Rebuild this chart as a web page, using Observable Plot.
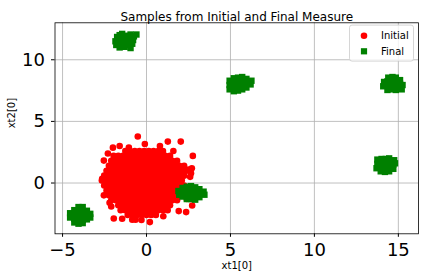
<!DOCTYPE html>
<html>
<head>
<meta charset="utf-8">
<script src="https://cdn.jsdelivr.net/npm/d3@7"></script>
<script src="https://cdn.jsdelivr.net/npm/@observablehq/plot@0.6"></script>
<style>
  html, body { margin: 0; padding: 0; background: white; }
  #chart svg { display: block; }
</style>
</head>
<body>
<div id="chart"></div>
<script>
const titleText = "Samples from Initial and Final Measure";
const xLabel = "xt1[0]";
const yLabel = "xt2[0]";
const xTicks = [-5, 0, 5, 10, 15];
const yTicks = [0, 5, 10];
const seriesNames = ["Initial", "Final"];

// Initial measure samples (red circles): dense core, row by row [y, xs]
const initialCoreRows = [
  [2.6,  [-1.26,-0.98,-0.7,-0.42,-0.14,0.14,0.42,0.7,0.98]],
  [2.2,  [-1.96,-1.68,-1.4,-1.12,-0.84,-0.56,-0.28,0,0.28,0.56,0.84,1.12,1.4]],
  [1.8,  [-2.1,-1.82,-1.54,-1.26,-0.98,-0.7,-0.42,-0.14,0.14,0.42,0.7,0.98,1.26,1.54,1.82]],
  [1.4,  [-2.24,-1.96,-1.68,-1.4,-1.12,-0.84,-0.56,-0.28,0,0.28,0.56,0.84,1.12,1.4,1.68,1.96,2.24]],
  [1.0,  [-2.38,-2.1,-1.82,-1.54,-1.26,-0.98,-0.7,-0.42,-0.14,0.14,0.42,0.7,0.98,1.26,1.54,1.82,2.1,2.38]],
  [0.6,  [-2.52,-2.24,-1.96,-1.68,-1.4,-1.12,-0.84,-0.56,-0.28,0,0.28,0.56,0.84,1.12,1.4,1.68,1.96,2.24]],
  [0.2,  [-2.66,-2.38,-2.1,-1.82,-1.54,-1.26,-0.98,-0.7,-0.42,-0.14,0.14,0.42,0.7,0.98,1.26,1.54,1.82,2.1]],
  [-0.2, [-2.52,-2.24,-1.96,-1.68,-1.4,-1.12,-0.84,-0.56,-0.28,0,0.28,0.56,0.84,1.12,1.4,1.68,1.96,2.24]],
  [-0.6, [-2.38,-2.1,-1.82,-1.54,-1.26,-0.98,-0.7,-0.42,-0.14,0.14,0.42,0.7,0.98,1.26,1.54,1.82,2.1]],
  [-1.0, [-2.24,-1.96,-1.68,-1.4,-1.12,-0.84,-0.56,-0.28,0,0.28,0.56,0.84,1.12,1.4,1.68,1.96]],
  [-1.4, [-2.1,-1.82,-1.54,-1.26,-0.98,-0.7,-0.42,-0.14,0.14,0.42,0.7,0.98,1.26,1.54,1.82]],
  [-1.8, [-1.68,-1.4,-1.12,-0.84,-0.56,-0.28,0,0.28,0.56,0.84,1.12,1.4]],
  [-2.2, [-1.54,-1.26,-0.98,-0.7,-0.42,-0.14,0.14,0.42,0.7,0.98,1.26]],
  [-2.6, [-1.12,-0.84,-0.56,-0.28,0,0.28,0.56]]
];
// Initial measure samples: scattered points at the edge of the cloud
const initialEdgePoints = [
  [-0.52,3.77],[1.27,3.36],[2.04,3.36],[2.76,2.2],[-2.0,2.87],[-1.05,2.87],[-0.1,3.17],
  [-1.95,-2.88],[-1.45,-2.9],[-0.85,-2.98],[-0.65,-2.98],[0.2,-3.17],[2.36,-2.36],[1.92,-2.28],[2.72,-1.82],
  [-2.64,0.34],[-2.54,1.82],[-2.54,-1.0],[-2.2,-1.6],[-2.1,-1.9],
  [2.5,1.1],[2.6,0.5],[2.4,-1.3],[-1.6,3.0],[0.8,3.0],[1.6,2.6],[-2.3,2.4],[1.0,-2.7],[-0.3,-3.0],[2.7,1.2],[2.65,0.8]
];

// Final measure samples (green squares), six clusters
const finalPoints = [
  [-1.85,11.5],[-1.8,11.2],[-1.75,11.85],[-1.6,11.0],[-1.55,11.4],[-1.5,11.7],[-1.45,12.1],[-1.3,11.05],[-1.3,11.35],[-1.25,11.65],
  [-1.2,11.95],[-1.1,11.2],[-1.05,11.5],[-1.0,11.8],[-0.95,12.05],[-0.85,11.3],[-0.8,11.6],[-0.75,11.9],[-0.95,10.95],[-1.6,12.0],[-0.6,12.05],
  [4.95,7.6],[4.95,7.95],[4.95,8.3],[5.2,7.45],[5.2,7.8],[5.2,8.15],[5.2,8.5],[5.45,7.5],[5.45,7.85],[5.45,8.2],
  [5.45,8.55],[5.7,7.6],[5.7,7.95],[5.7,8.3],[5.7,8.6],[5.95,7.75],[5.95,8.1],[5.95,8.45],[6.2,8.0],[6.25,8.3],
  [14.1,7.85],[14.15,8.2],[14.35,7.55],[14.35,7.9],[14.35,8.25],[14.4,8.55],[14.6,7.6],[14.6,7.95],[14.6,8.3],[14.65,8.6],
  [14.85,7.55],[14.85,7.9],[14.85,8.25],[14.85,8.55],[15.1,7.7],[15.1,8.05],[15.1,8.35],[15.25,7.95],[15.2,7.6],
  [13.7,1.2],[13.75,1.55],[13.75,1.9],[13.95,0.95],[13.95,1.3],[13.95,1.65],[14.0,1.95],[14.2,0.9],[14.2,1.25],[14.2,1.6],
  [14.25,1.95],[14.45,0.95],[14.45,1.3],[14.45,1.65],[14.45,2.0],[14.7,1.15],[14.7,1.5],[14.75,1.85],[14.8,1.6],
  [1.9,-0.65],[1.95,-0.95],[2.15,-0.4],[2.15,-0.75],[2.15,-1.1],[2.4,-0.3],[2.4,-0.65],[2.4,-1.0],[2.4,-1.3],[2.65,-0.25],[2.65,-0.6],
  [2.65,-0.95],[2.65,-1.3],[2.9,-0.35],[2.9,-0.7],[2.9,-1.05],[2.9,-1.35],[3.15,-0.5],[3.15,-0.85],[3.15,-1.15],[3.4,-0.7],[3.45,-0.95],
  [-4.55,-2.45],[-4.55,-2.8],[-4.3,-2.2],[-4.3,-2.55],[-4.3,-2.9],[-4.3,-3.2],[-4.05,-1.95],[-4.05,-2.3],[-4.05,-2.65],[-4.05,-3.0],[-4.05,-3.3],
  [-3.8,-1.95],[-3.8,-2.3],[-3.8,-2.65],[-3.8,-3.0],[-3.8,-3.25],[-3.55,-2.25],[-3.55,-2.6],[-3.55,-2.95],[-3.35,-2.5],[-3.35,-2.8]
];

const initialPoints = initialCoreRows.flatMap(([y, xs]) => xs.map(x => [x, y])).concat(initialEdgePoints);

const colors = ["#ff0000", "#008000"];
const W = 424, H = 280;
const mL = 54.5, mR = 6, mT = 22.3, mB = 46.7;
const fmt = d => d < 0 ? "\u2212" + (-d) : String(d);

const chart = Plot.plot({
  width: W, height: H,
  marginLeft: mL, marginRight: mR, marginTop: mT, marginBottom: mB,
  style: { fontFamily: "DejaVu Sans", background: "white", color: "black" },
  x: { domain: [-5.45, 16.2] },
  y: { domain: [-4.12, 13.0] },
  marks: [
    Plot.gridX(xTicks, { stroke: "#b0b0b0", strokeOpacity: 1, strokeWidth: 0.8 }),
    Plot.gridY(yTicks, { stroke: "#b0b0b0", strokeOpacity: 1, strokeWidth: 0.8 }),
    Plot.dot(initialPoints, { x: d => d[0], y: d => d[1], r: 3.3, fill: colors[0], stroke: "none" }),
    Plot.dot(finalPoints, { x: d => d[0], y: d => d[1], r: 3.6, symbol: "square", fill: colors[1], stroke: "none" }),
    Plot.frame({ stroke: "black", strokeWidth: 0.8 }),
    Plot.axisX(xTicks, { tickSize: 3.5, tickPadding: 6, fontSize: 18, tickFormat: fmt, label: null }),
    Plot.axisY(yTicks, { tickSize: 3.5, tickPadding: 6.5, fontSize: 18, tickFormat: fmt, label: null }),
    Plot.text([titleText], { frameAnchor: "top", dy: -10, fontSize: 12, fill: "black" }),
    Plot.text([xLabel], { frameAnchor: "bottom", dy: 35.2, fontSize: 10, fill: "black" }),
    Plot.text([yLabel], { frameAnchor: "left", dx: -42.8, rotate: -90, fontSize: 10, fill: "black" })
  ]
});

// Legend (upper right, matplotlib style)
const svg = d3.select(chart);
const right = W - mR;
const lg = svg.append("g").attr("font-family", "DejaVu Sans").attr("font-size", 10).attr("text-anchor", "start");
lg.append("rect").attr("x", right - 68.5).attr("y", mT + 2.8).attr("width", 64).attr("height", 36)
  .attr("rx", 2.5).attr("fill", "white").attr("fill-opacity", 0.8).attr("stroke", "#cccccc").attr("stroke-width", 0.8);
lg.append("circle").attr("cx", right - 54).attr("cy", mT + 13.4).attr("r", 3.3).attr("fill", colors[0]);
lg.append("rect").attr("x", right - 57.1).attr("y", mT + 25.9).attr("width", 6.2).attr("height", 6.2).attr("fill", colors[1]);
lg.append("text").attr("x", right - 37).attr("y", mT + 17).attr("fill", "black").text(seriesNames[0]);
lg.append("text").attr("x", right - 37).attr("y", mT + 32.7).attr("fill", "black").text(seriesNames[1]);

document.getElementById("chart").appendChild(chart);
</script>
</body>
</html>
